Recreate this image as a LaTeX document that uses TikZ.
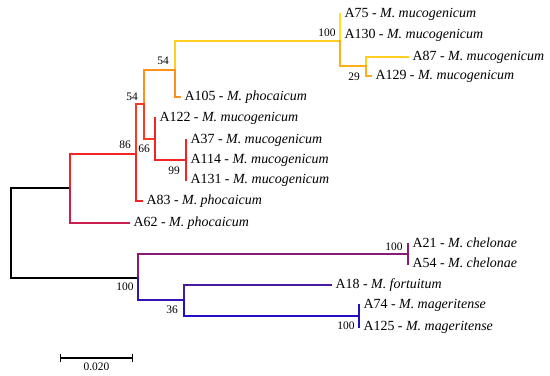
\documentclass[tikz,border=0pt]{standalone}
\usepackage{fontspec}
\setmainfont{Liberation Serif}
\usetikzlibrary{calc}
\definecolor{treeRed}{HTML}{F42424}
\definecolor{treeCrim}{HTML}{CC1E4E}
\definecolor{treeRedOr}{HTML}{FA3A22}
\definecolor{treeOrange}{HTML}{FF901E}
\definecolor{treeAmber}{HTML}{FFAE1A}
\definecolor{treeYellow}{HTML}{FFCE1E}
\definecolor{treeLemon}{HTML}{FFE024}
\definecolor{treePurple}{HTML}{8A1A78}
\definecolor{treeBlue}{HTML}{3414B4}
\definecolor{treeIndigo}{HTML}{4A1A9C}
\definecolor{treeDeep}{HTML}{2410C4}
\begin{document}
\begin{tikzpicture}[x=1bp,y=-1bp,line width=1.4pt,line cap=rect,
  font=\fontsize{14}{16}\selectfont,
  leaf/.style={anchor=west,inner xsep=4.5bp,inner ysep=0pt,outer sep=0pt,
    text height=9.5bp,text depth=3bp},
  boot/.style={font=\fontsize{11.5}{13}\selectfont,inner sep=0pt}]
  \useasboundingbox (0,0) rectangle (550,375);
  % internal nodes of the tree
  \foreach \name/\x/\y in {r/11/233, a/70/188, c/136/154, d/144/104,
    e/175/70, g/340/41, h/366/66, f/155/139, i/186/160,
    b/138/278, j/408/254, k/184/300, m/359/316}
    \coordinate (\name) at (\x,\y);
  % leaves: strain - species
  \foreach \name/\x/\y/\species in {
    A75/340/14/mucogenicum, A130/340/35/mucogenicum,
    A87/408/57/mucogenicum, A129/371/76/mucogenicum,
    A105/180/97/phocaicum, A122/155/118/mucogenicum,
    A37/186/140/mucogenicum, A114/186/160/mucogenicum,
    A131/186/180/mucogenicum, A83/142/201/phocaicum,
    A62/129/223/phocaicum, A21/408/244/chelonae,
    A54/408/264/chelonae, A18/331/285/fortuitum,
    A74/359/305/mageritense, A125/359/327/mageritense}
    \node[leaf] (\name) at (\x,\y) {\name{} - \textit{M. \species}};
  % branches, parent to child
  \foreach \p/\c/\col in {r/a/black, r/b/black,
    a/c/treeRed, a/A62.west/treeCrim,
    c/d/treeRedOr, c/A83.west/treeRed,
    d/e/treeOrange, d/f/treeRedOr,
    e/g/treeYellow, e/A105.west/treeOrange,
    g/A75.west/treeLemon, g/A130.west/treeLemon, g/h/treeAmber,
    h/A87.west/treeYellow, h/A129.west/treeAmber,
    f/A122.west/treeRed, f/i/treeRed,
    i/A37.west/treeRed, i/A114.west/treeRed, i/A131.west/treeRed,
    b/j/treePurple, b/k/treeBlue,
    j/A21.west/treePurple, j/A54.west/treePurple,
    k/A18.west/treeIndigo, k/m/treeDeep,
    m/A74.west/treeDeep, m/A125.west/treeDeep}
    \draw[\col] (\p) |- (\c);
  % bootstrap values
  \foreach \name/\x/\y/\val in {bsc/125/145/86, bsd/132/97/54,
    bsf/144/149/66, bse/163/61/54, bsg/327/33/100, bsh/354/77/29,
    bsi/174/171/99, bsb/125/287/100, bsk/172/310/36,
    bsj/394/247/100, bsm/346/326/100}
    \node[boot] (\name) at (\x,\y) {\val};
  % scale bar
  \coordinate (sbL) at (60,358);
  \coordinate (sbR) at (133,358);
  \draw[|-|,line width=1.2pt] (sbL) -- (sbR);
  \node[boot,below=4bp] (sbtext) at ($(sbL)!.5!(sbR)$) {0.020};
\end{tikzpicture}
\end{document}
